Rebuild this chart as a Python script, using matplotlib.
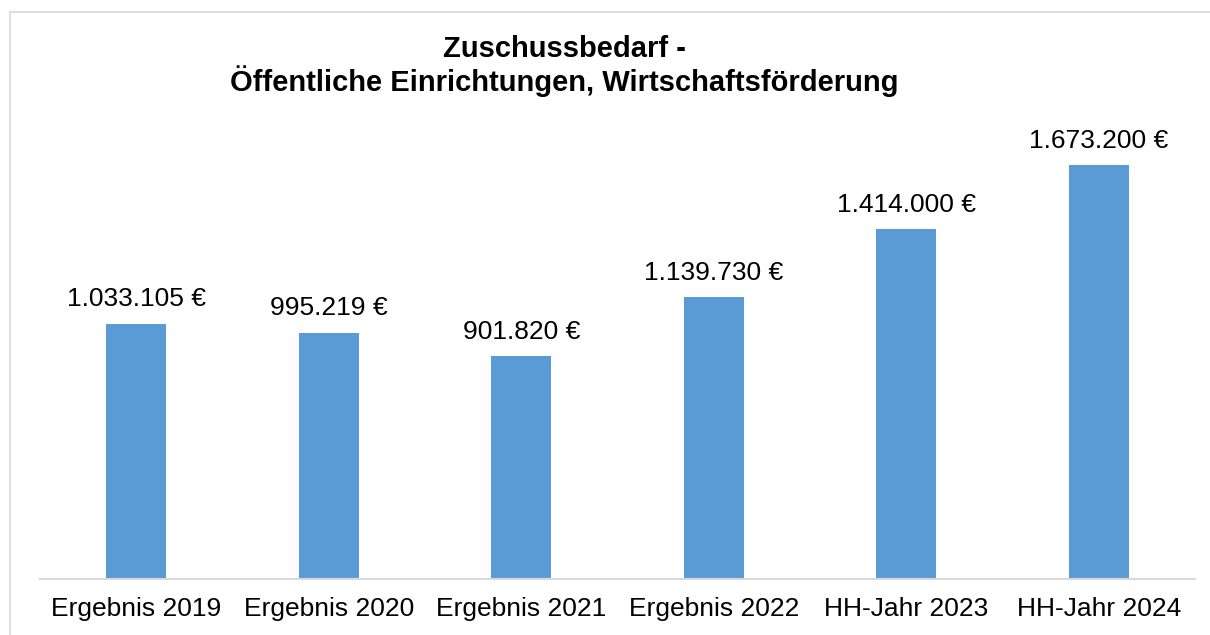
import matplotlib
matplotlib.use("Agg")
import matplotlib.pyplot as plt
from matplotlib.patches import Rectangle

plt.rcParams['font.family'] = ['Liberation Sans', 'DejaVu Sans']

# Daten
kategorien = ["Ergebnis 2019", "Ergebnis 2020", "Ergebnis 2021",
              "Ergebnis 2022", "HH-Jahr 2023", "HH-Jahr 2024"]
werte = [1033105, 995219, 901820, 1139730, 1414000, 1673200]

def fmt_euro(v):
    return f"{v:,.0f}".replace(",", ".") + " €"

W, H = 1210, 635
fig = plt.figure(figsize=(W / 100, H / 100), dpi=100)

# Rahmen um das Diagramm
fig.patches.append(Rectangle((10 / W, -0.1), 1.2, 1.1 - 12 / H,
                             transform=fig.transFigure, fill=False,
                             edgecolor='#d9d9d9', linewidth=1.2))

ax = fig.add_axes([40 / W, 1 - 579 / H, 1155 / W, 445 / H])
x = range(len(kategorien))
bars = ax.bar(x, werte, width=0.31, color='#5b9bd5')
ax.set_xlim(-0.5, len(kategorien) - 0.5)
ax.set_ylim(0, 1800000)

for b, v in zip(bars, werte):
    ax.annotate(fmt_euro(v), (b.get_x() + b.get_width() / 2, v),
                xytext=(0, 9), textcoords='offset points',
                ha='center', va='bottom', fontsize=19, color='#000000')

for s in ['top', 'right', 'left']:
    ax.spines[s].set_visible(False)
ax.spines['bottom'].set_color('#d9d9d9')
ax.spines['bottom'].set_linewidth(1.5)
ax.set_yticks([])
ax.set_xticks(list(x))
ax.set_xticklabels(kategorien, fontsize=19)
ax.tick_params(axis='x', length=0, pad=13)

fig.text(564 / W, 1 - 66 / H, "Zuschussbedarf -\nÖffentliche Einrichtungen, Wirtschaftsförderung",
         ha='center', va='center', fontsize=21, fontweight='bold', linespacing=1.1)

fig.savefig("out.png", dpi=100)
